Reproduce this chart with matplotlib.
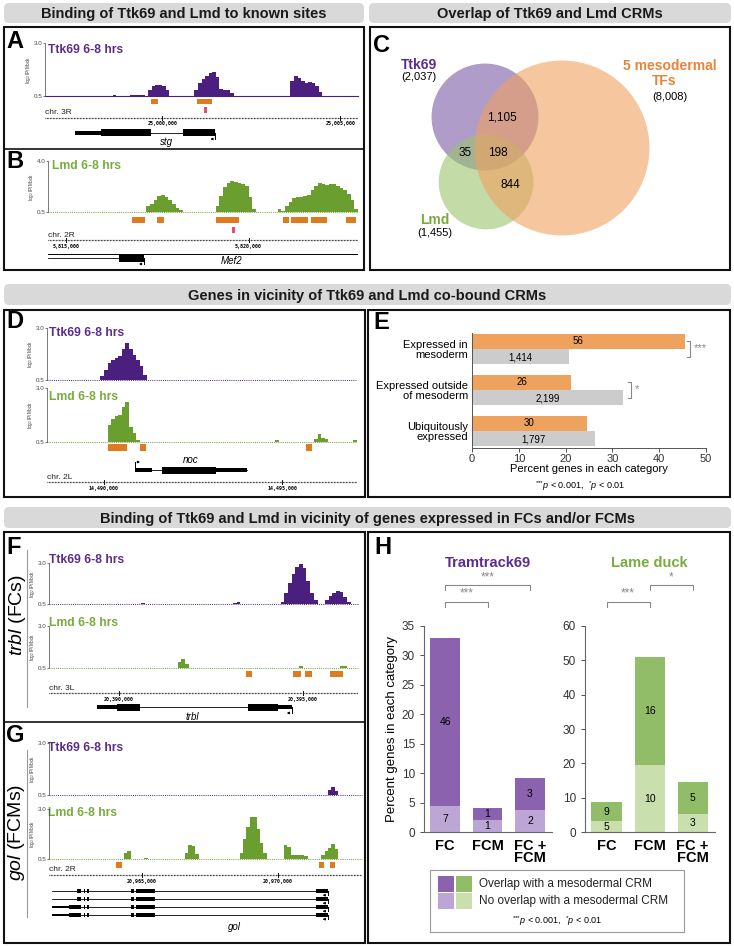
import numpy as np
import matplotlib.pyplot as plt
from matplotlib.patches import Rectangle, FancyBboxPatch, Circle

plt.rcParams['font.family'] = ['Liberation Sans', 'DejaVu Sans']
plt.rcParams['mathtext.fontset'] = 'custom'
plt.rcParams['mathtext.rm'] = 'Liberation Sans'
plt.rcParams['mathtext.it'] = 'Liberation Sans:italic'

W, H = 734, 946

# ---------------- data ----------------
# ChIP signal (log2 IP/Mock) in fixed bins: start, bin size, values
a_start, a_step = 24996700, 100
a_ttk = ([0.5]*19 + [0.55] + [0.5]*4 + [0.55]*4 + [0.5] + [0.8, 0.95, 1.0, 1.02, 0.98, 0.8] + [0.5]*7
         + [0.8, 1.1, 1.3, 1.45, 1.6, 1.63, 1.4, 0.85, 0.8, 0.78, 0.65] + [0.5]*16
         + [1.2, 1.44, 1.35, 1.2, 1.12, 1.18, 1.12, 0.95, 0.7] + [0.5]*10)
b_start, b_step = 5814500, 100
b_lmd = ([0.5]*27 + [0.9, 1.05, 1.3, 1.6, 1.68, 1.55, 1.3, 1.05, 0.8, 0.65] + [0.5]*9
         + [0.9, 1.6, 2.2, 2.5, 2.6, 2.55, 2.5, 2.4, 2.3, 1.5, 0.7] + [0.5]*6
         + [0.7, 0.55, 0.9, 1.2, 1.45, 1.55, 1.55, 1.6, 1.7, 2.0, 2.3, 2.5, 2.45, 2.35, 2.4, 2.45,
            2.3, 2.15, 2.0, 1.75, 1.3, 0.7])
d_start, d_step = 14488400, 100
d_ttk = [0.5]*15 + [0.7, 1.0, 1.3, 1.45, 1.55, 1.65, 2.0, 2.27, 2.0, 1.7, 1.45, 1.15, 0.75] + [0.5]*59
d_lmd = ([0.5]*17 + [1.3, 1.55, 1.7, 1.75, 2.1, 2.33, 1.2, 0.9, 0.6] + [0.5]*38 + [0.6] + [0.5]*10
         + [0.65, 0.85, 0.7, 0.65] + [0.5]*7 + [0.6])
f_start, f_step = 20388100, 100
f_ttk = ([0.5]*25 + [0.55] + [0.5]*24 + [0.55, 0.65] + [0.5]*11
         + [0.6, 1.2, 1.8, 2.3, 2.75, 2.95, 2.7, 1.9, 1.2, 0.75] + [0.5]*2
         + [0.75, 1.0, 1.2, 1.3, 1.25, 0.9, 0.6] + [0.5]*2)
f_lmd = [0.5]*35 + [0.85, 1.05, 0.75] + [0.5]*30 + [0.62] + [0.5]*10 + [0.6, 0.6] + [0.5]*3
g_start, g_step = 20961600, 125
g_ttk = [0.5]*82 + [0.75, 0.88, 0.7] + [0.5]*7
g_lmd = ([0.5]*22 + [0.8, 0.88] + [0.5]*4 + [0.55] + [0.5]*11 + [0.8, 1.2, 1.15, 0.75] + [0.5]*12
         + [0.8, 1.5, 2.1, 2.6, 2.6, 2.0, 1.3, 0.8] + [0.5]*5 + [1.2, 1.1, 0.7]
         + [0.68, 0.7, 0.68, 0.65] + [0.5]*4 + [0.7, 0.9, 1.05, 1.25, 1.0] + [0.5]*7)

# CRMs (orange) and known sites (red)
a_crm = [(24999691, 24999888), (25000983, 25001404)]
a_sites = [25001208]
b_crm = [(5816803, 5817158), (5817486, 5817677), (5819098, 5819726), (5820956, 5821120),
         (5821174, 5821639), (5821721, 5822158), (5822677, 5822950)]
b_sites = [5819590]
d_crm = [(14490112, 14490646), (14491011, 14491180), (14495674, 14495843)]
f_crm = [(20393451, 20393614), (20394728, 20394945), (20395054, 20395244), (20395733, 20396086)]
g_crm = [(20964044, 20964265), (20971507, 20971690), (20971911, 20972095)]

a_ticks = [25000000, 25005000]
b_ticks = [5815000, 5820000]
d_ticks = [14490000, 14495000]
f_ticks = [20390000, 20395000]
g_ticks = [20965000, 20970000]

# gene models
stg_span = (24997556, 25001489)
stg_utr = [(24997556, 24998287)]
stg_cds = [(24998287, 24999691), (25000590, 25001489)]
mef2_span = (5814400, 5823100)
mef2_short_span = (5814508, 5817131)
mef2_short_cds = [(5816448, 5817131)]
noc_span = (14490871, 14494017)
noc_utr = [(14490871, 14491348), (14493146, 14494017)]
noc_cds = [(14491629, 14493146)]
trbl_span = (20389402, 20394700)
trbl_utr = [(20389402, 20389946), (20394320, 20394700)]
trbl_cds = [(20389946, 20390571), (20393505, 20394320)]
gol_span = (20961728, 20971837)
gol_cds_a = [(20962647, 20962794), (20962868, 20962941), (20962978, 20963088),
             (20964596, 20964706), (20964779, 20965478), (20971396, 20971837)]
gol_utr_b = [(20961728, 20962353)]
gol_cds_b = [(20962353, 20962794), (20962868, 20962941), (20962978, 20963088),
             (20964596, 20964706), (20964779, 20965478), (20971396, 20971837)]

# Venn counts
venn_totals = [2037, 1455, 8008]   # Ttk69, Lmd, 5 mesodermal TFs
venn_regions = ['1,105', '35', '198', '844']

# panel E
e_categories = ['Expressed in\nmesoderm', 'Expressed outside\nof mesoderm', 'Ubiquitously\nexpressed']
e_cobound_pct = [45.5, 21.2, 24.5]
e_all_pct = [20.7, 32.2, 26.3]
e_cobound_n = ['56', '26', '30']
e_all_n = ['1,414', '2,199', '1,797']
e_sig = ['***', '*', '']

# panel H
h_groups = ['FC', 'FCM', 'FC +\nFCM']
ttk_no_overlap = [4.4, 2.0, 3.7]
ttk_overlap = [28.6, 2.0, 5.5]
ttk_no_n = ['7', '1', '2']
ttk_overlap_n = ['46', '1', '3']
lmd_no_overlap = [3.1, 19.5, 5.35]
lmd_overlap = [5.5, 31.6, 9.25]
lmd_no_n = ['5', '10', '3']
lmd_overlap_n = ['9', '16', '5']

# ---------------- style ----------------
TTK = '#4b1f7d'
TTK_TXT = '#5a2d8c'
LMD = '#6a9e2f'
LMD_TXT = '#78ac3c'
ORANGE = '#e07a1f'
RED = '#e0506a'
PNOTE = r'$^{{*}{*}{*}}\mathit{p}$ < 0.001,  $^{*}\mathit{p}$ < 0.01'

fig = plt.figure(figsize=(W / 100, H / 100), dpi=100)


def rect(x0, y0, x1, y1):
    return [x0 / W, 1 - y1 / H, (x1 - x0) / W, (y1 - y0) / H]


ov = fig.add_axes([0, 0, 1, 1])
ov.set_xlim(0, W)
ov.set_ylim(H, 0)
ov.axis('off')


def header(x0, y0, x1, y1, text):
    ov.add_patch(FancyBboxPatch((x0, y0), x1 - x0, y1 - y0,
                                boxstyle='round,pad=0,rounding_size=5', fc='#d9d9d9', ec='none'))
    ov.text((x0 + x1) / 2, (y0 + y1) / 2 + 1, text, ha='center', va='center',
            fontsize=10.5, fontweight='bold', color='#1a1a1a')


def frame(x0, y0, x1, y1, lw=1.5):
    ov.add_patch(Rectangle((x0, y0), x1 - x0, y1 - y0, fc='none', ec='#111111', lw=lw))


header(4, 3, 364, 23, 'Binding of Ttk69 and Lmd to known sites')
header(369, 3, 731, 23, 'Overlap of Ttk69 and Lmd CRMs')
header(4, 284, 731, 305, 'Genes in vicinity of Ttk69 and Lmd co-bound CRMs')
header(4, 507, 731, 528, 'Binding of Ttk69 and Lmd in vicinity of genes expressed in FCs and/or FCMs')

frame(4, 27, 364, 270)
ov.plot([4, 364], [149, 149], color='#111111', lw=1.2)
frame(370, 27, 730, 270)
frame(4, 310, 365, 497)
frame(368, 310, 730, 497)
frame(4, 532, 365, 943)
ov.plot([4, 365], [722, 722], color='#111111', lw=1.2)
frame(368, 532, 730, 943)

for letter, x, y in [('A', 6, 41), ('B', 6, 162), ('C', 373, 45), ('D', 6, 321), ('E', 373, 322),
                     ('F', 6, 547), ('G', 6, 735), ('H', 374, 547)]:
    ov.text(x, y, letter, fontsize=17, fontweight='bold', ha='left', va='center')


def track(x0, y0, x1, y1, start, step, vals, color, top, label, label_xy, dotted=True):
    ax = fig.add_axes(rect(x0, y0, x1, y1))
    edges = start + step * np.arange(len(vals) + 1)
    ax.stairs(vals, edges, baseline=0.5, fill=True, color=color, lw=0)
    ax.plot([edges[0], edges[-1]], [0.5, 0.5], color=color, lw=0.8 if not dotted else 0.7,
            ls='-' if not dotted else (0, (1, 1.2)), clip_on=False)
    ax.set_xlim(edges[0], edges[-1])
    ax.set_ylim(0.5, top)
    for s in ['top', 'right', 'bottom']:
        ax.spines[s].set_visible(False)
    ax.spines['left'].set_linewidth(0.5)
    ax.spines['left'].set_color('#444444')
    ax.set_xticks([])
    ax.set_yticks([0.5, top])
    ax.set_yticklabels(['0.5', f'{top:.1f}'], fontsize=4.5, color='#333333')
    ax.tick_params(axis='y', length=1.5, width=0.5, pad=0.5, colors='#444444')
    ax.set_ylabel('log$_2$ IP/Mock', fontsize=3.3, labelpad=0.5, color='#333333')
    ax.patch.set_visible(False)
    ov.text(label_xy[0], label_xy[1], label, fontsize=8.7, fontweight='bold',
            color=TTK_TXT if color == TTK else LMD_TXT, ha='left', va='center')
    return ax


def ann_axes(x0, x1, start, end):
    ax = fig.add_axes(rect(x0, 0, x1, H))
    ax.set_xlim(start, end)
    ax.set_ylim(H, 0)
    ax.axis('off')
    ax.bpp = (end - start) / (x1 - x0)
    return ax


def crms(ax, boxes, y, h=6, color=ORANGE):
    for s, e in boxes:
        ax.add_patch(Rectangle((s, y), e - s, h, fc=color, ec='none'))


def sites(ax, pos, y):
    for p in pos:
        ax.add_patch(Rectangle((p - 1.2 * ax.bpp, y), 2.4 * ax.bpp, 6, fc=RED, ec='none'))


def ruler(ax, y, ticks, chrom, chrom_y):
    x0, x1 = ax.get_xlim()
    ax.plot([x0, x1], [y, y], color='#111111', lw=0.9, ls=(0, (0.6, 0.6)))
    for t in ticks:
        ax.plot([t, t], [y - 2, y + 2], color='#111111', lw=0.7)
        ax.text(t, y + 6, f'{t:,}', ha='center', va='center', fontsize=3.6,
                family='DejaVu Sans Mono', fontweight='bold')
    ax.text(x0, chrom_y, chrom, ha='left', va='center', fontsize=6, color='#222222')


def gene(ax, y, span, utr=(), cds=(), tss=None, strand='-', lw=0.6, scale=1.0):
    ax.plot(span, [y, y], color='k', lw=lw)
    for s, e in utr:
        ax.add_patch(Rectangle((s, y - 2 * scale), e - s, 4 * scale, fc='k', ec='none'))
    for s, e in cds:
        ax.add_patch(Rectangle((s, y - 3.5 * scale), e - s, 7 * scale, fc='k', ec='none'))
    if tss is not None:
        d = 6 * scale
        if strand == '-':
            ax.plot([tss, tss], [y, y + d], color='k', lw=0.7)
            ax.annotate('', xy=(tss - 5 * ax.bpp, y + d), xytext=(tss, y + d),
                        arrowprops=dict(arrowstyle='-|>', lw=0.7, color='k', mutation_scale=3))
        else:
            ax.plot([tss, tss], [y, y - 8], color='k', lw=0.7)
            ax.annotate('', xy=(tss + 5 * ax.bpp, y - 8), xytext=(tss, y - 8),
                        arrowprops=dict(arrowstyle='-|>', lw=0.7, color='k', mutation_scale=3))


def gene_name(ax, x, y, name):
    ax.text(x, y, name, ha='center', va='center', fontsize=7, style='italic')


# ---- panel A ----
ta = track(45, 43, 358, 96, a_start, a_step, a_ttk, TTK, 3.0, 'Ttk69 6-8 hrs', (48, 50), dotted=False)
aa = ann_axes(45, 358, *ta.get_xlim())
crms(aa, a_crm, 99, 5)
sites(aa, a_sites, 107)
ruler(aa, 118, a_ticks, 'chr. 3R', 113)
gene(aa, 133, stg_span, stg_utr, stg_cds, tss=stg_span[1])
gene_name(aa, 25000112, 142, 'stg')

# ---- panel B ----
tb = track(48, 161, 358, 212, b_start, b_step, b_lmd, LMD, 4.0, 'Lmd 6-8 hrs', (52, 166))
ab = ann_axes(48, 358, *tb.get_xlim())
crms(ab, b_crm, 217)
sites(ab, b_sites, 227)
ruler(ab, 240, b_ticks, 'chr. 2R', 235)
ab.plot(mef2_span, [254, 254], color='k', lw=0.7)
gene(ab, 258, mef2_short_span, cds=mef2_short_cds, tss=mef2_short_span[1])
gene_name(ab, 5819535, 261, 'Mef2')

# ---- Venn C ----
venn_centers = [(485, 117), (486, 182), (562, 148)]
venn_colors = ['#7b5aa6', '#9bc46d', '#f0a060']
for (cx, cy), n, c in zip(venn_centers, venn_totals, venn_colors):
    ov.add_patch(Circle((cx, cy), 3.44 * n ** 0.36, fc=c, ec='none', alpha=0.6))
ov.text(419, 65, 'Ttk69', color=TTK_TXT, fontsize=10, fontweight='bold', ha='center', va='center')
ov.text(419, 77, f'({venn_totals[0]:,})', fontsize=8, ha='center', va='center')
ov.text(435, 220, 'Lmd', color=LMD_TXT, fontsize=10, fontweight='bold', ha='center', va='center')
ov.text(435, 233, f'({venn_totals[1]:,})', fontsize=8, ha='center', va='center')
ov.text(670, 66, '5 mesodermal', color='#e8843a', fontsize=10, fontweight='bold', ha='center', va='center')
ov.text(664, 81, 'TFs', color='#e8843a', fontsize=10, fontweight='bold', ha='center', va='center')
ov.text(670, 97, f'({venn_totals[2]:,})', fontsize=8, ha='center', va='center')
for txt, (x, y) in zip(venn_regions, [(502, 118), (465, 153), (498, 153), (510, 185)]):
    ov.text(x, y, txt, fontsize=8.5, ha='center', va='center')

# ---- panel D ----
td1 = track(47, 328, 357, 380, d_start, d_step, d_ttk, TTK, 3.0, 'Ttk69 6-8 hrs', (49, 333))
td2 = track(47, 388, 357, 442, d_start, d_step, d_lmd, LMD, 3.0, 'Lmd 6-8 hrs', (49, 397))
ad = ann_axes(47, 357, *td1.get_xlim())
crms(ad, d_crm, 444, 7)
gene(ad, 470, noc_span, noc_utr, noc_cds, tss=noc_span[0], strand='+')
gene_name(ad, 14492444, 460, 'noc')
ruler(ad, 482, d_ticks, 'chr. 2L', 477)

# ---- panel E ----
axE = fig.add_axes(rect(472, 333, 706, 448))
yy = np.arange(len(e_categories))
axE.barh(yy - 0.18, e_cobound_pct, height=0.36, color='#eea25e')
axE.barh(yy + 0.18, e_all_pct, height=0.36, color='#cccccc')
for i in range(len(yy)):
    axE.text(e_cobound_pct[i] / 2, yy[i] - 0.2, e_cobound_n[i], fontsize=7, ha='center', va='center')
    axE.text(e_all_pct[i] / 2, yy[i] + 0.2, e_all_n[i], fontsize=7, ha='center', va='center')
axE.set_ylim(2.41, -0.39)
axE.set_xlim(0, 50)
axE.set_yticks(yy)
axE.set_yticklabels(e_categories, fontsize=8, linespacing=0.95)
axE.tick_params(axis='y', length=0, pad=3)
axE.set_xticks(range(0, 51, 10))
axE.tick_params(axis='x', labelsize=8, length=3, width=0.6, pad=1, colors='#333333')
for s in ['top', 'right']:
    axE.spines[s].set_visible(False)
for s in ['left', 'bottom']:
    axE.spines[s].set_linewidth(0.7)
    axE.spines[s].set_color('#555555')
axE.set_xlabel('Percent genes in each category', fontsize=8, labelpad=0)
for i, (bx, star, dy) in enumerate([(46.6, e_sig[0], 0.19), (34.0, e_sig[1], 0.2)]):
    axE.plot([bx - 0.7, bx, bx, bx - 0.7], [i - dy, i - dy, i + dy, i + dy], color='#888888',
             lw=0.8, clip_on=False)
    axE.text(bx + 0.7, i - 0.03, star, color='#888888', fontsize=8, ha='left', va='center')
ov.add_patch(Rectangle((621, 412), 85, 23, fc='#eea25e', ec='none'))
ov.add_patch(Rectangle((621, 436.5), 85, 11, fc='#cccccc', ec='none'))
ov.text(663.5, 423.5, 'Ttk69-Lmd\nco-bound genes', fontsize=7, fontweight='bold', ha='center', va='center',
        linespacing=0.9)
ov.text(663.5, 442, 'All genes', fontsize=7, fontweight='bold', ha='center', va='center')
ov.text(580, 486, PNOTE, fontsize=6.5, ha='center', va='center')

# ---- panel F ----
tf1 = track(49, 563, 358, 604, f_start, f_step, f_ttk, TTK, 3.0, 'Ttk69 6-8 hrs', (49, 560))
tf2 = track(49, 626, 358, 668, f_start, f_step, f_lmd, LMD, 3.0, 'Lmd 6-8 hrs', (49, 623))
af = ann_axes(49, 358, *tf1.get_xlim())
crms(af, f_crm, 671)
ruler(af, 693, f_ticks, 'chr. 3L', 688)
gene(af, 707, trbl_span, trbl_utr, trbl_cds, tss=trbl_span[1])
gene_name(af, 20391983, 717, 'trbl')
ov.text(17, 615, r'$\mathit{trbl}$ (FCs)', rotation=90, fontsize=14, ha='center', va='center')
ov.plot([27, 27], [550, 707], color='#999999', lw=0.8)

# ---- panel G ----
tg1 = track(49, 743, 362, 795, g_start, g_step, g_ttk, TTK, 3.0, 'Ttk69 6-8 hrs', (48, 748))
tg2 = track(49, 809, 362, 859, g_start, g_step, g_lmd, LMD, 3.0, 'Lmd 6-8 hrs', (48, 813))
ag = ann_axes(49, 362, *tg1.get_xlim())
crms(ag, g_crm, 862)
ruler(ag, 875, g_ticks, 'chr. 2R', 869)
for y in [891, 899]:
    gene(ag, y, gol_span, cds=gol_cds_a, tss=gol_span[1], scale=0.7)
for y in [907, 915]:
    gene(ag, y, gol_span, utr=gol_utr_b, cds=gol_cds_b, tss=gol_span[1], scale=0.7)
gene_name(ag, 20968419, 927, 'gol')
ov.text(17, 832, r'$\mathit{gol}$ (FCMs)', rotation=90, fontsize=14, ha='center', va='center')
ov.plot([27, 27], [750, 917], color='#999999', lw=0.8)

# ---- panel H ----
h_specs = [
    ((424, 626, 552, 832), ttk_no_overlap, ttk_overlap, ttk_no_n, ttk_overlap_n,
     '#bca6d5', '#8a62ad', 35, 5, 'Tramtrack69', TTK_TXT, [(0, 1, 1.117, '***'), (0, 2, 1.199, '***')]),
    ((585, 626, 715, 832), lmd_no_overlap, lmd_overlap, lmd_no_n, lmd_overlap_n,
     '#c9dfae', '#92bd68', 60, 10, 'Lame duck', LMD_TXT, [(0, 1, 1.117, '***'), (1, 2, 1.199, '*')]),
]
for i, (box, lo, hi, lo_n, hi_n, c_lo, c_hi, ymax, ystep, title, tcol, brackets) in enumerate(h_specs):
    ax = fig.add_axes(rect(*box))
    x = np.arange(len(h_groups))
    ax.bar(x, lo, width=0.7, color=c_lo)
    ax.bar(x, hi, bottom=lo, width=0.7, color=c_hi)
    for j in range(len(x)):
        ax.text(x[j], lo[j] / 2, lo_n[j], fontsize=7.5, ha='center', va='center')
        ax.text(x[j], lo[j] + hi[j] / 2, hi_n[j], fontsize=7.5, ha='center', va='center')
    ax.set_ylim(0, ymax)
    ax.set_xlim(-0.5, 2.52)
    ax.set_yticks(np.arange(0, ymax + 1, ystep))
    ax.set_xticks(x)
    ax.set_xticklabels(h_groups, fontsize=10.5, fontweight='bold', linespacing=0.85)
    ax.tick_params(axis='x', length=0, pad=5)
    ax.tick_params(axis='y', labelsize=8.5, length=3, width=0.6, colors='#333333')
    for s in ['top', 'right']:
        ax.spines[s].set_visible(False)
    for s in ['left', 'bottom']:
        ax.spines[s].set_linewidth(0.8)
        ax.spines[s].set_color('#666666')
    if i == 0:
        ax.set_ylabel('Percent genes in each category', fontsize=9.5, labelpad=3)
    ax.text(1, 1.305, title, transform=ax.get_xaxis_transform(), fontsize=10.5, fontweight='bold',
            color=tcol, ha='center', va='center')
    for a, b, yb, star in brackets:
        tr = ax.get_xaxis_transform()
        ax.plot([a, a, b, b], [yb - 0.025, yb, yb, yb - 0.025], color='#888888', lw=0.8,
                transform=tr, clip_on=False)
        ax.text((a + b) / 2, yb + 0.01, star, color='#888888', fontsize=8.5, ha='center', va='bottom',
                transform=tr)

ov.add_patch(Rectangle((430, 870), 254, 62, fc='none', ec='#999999', lw=0.8))
for (x0, y0), c in zip([(438, 876), (456, 876), (438, 893), (456, 893)],
                       ['#8a62ad', '#92bd68', '#bca6d5', '#c9dfae']):
    ov.add_patch(Rectangle((x0, y0), 16, 16, fc=c, ec='none'))
ov.text(479, 884, 'Overlap with a mesodermal CRM', fontsize=8.5, ha='left', va='center', color='#222222')
ov.text(479, 901, 'No overlap with a mesodermal CRM', fontsize=8.5, ha='left', va='center', color='#222222')
ov.text(557, 921, PNOTE, fontsize=6.5, ha='center', va='center')

fig.savefig('out.png', dpi=100)
